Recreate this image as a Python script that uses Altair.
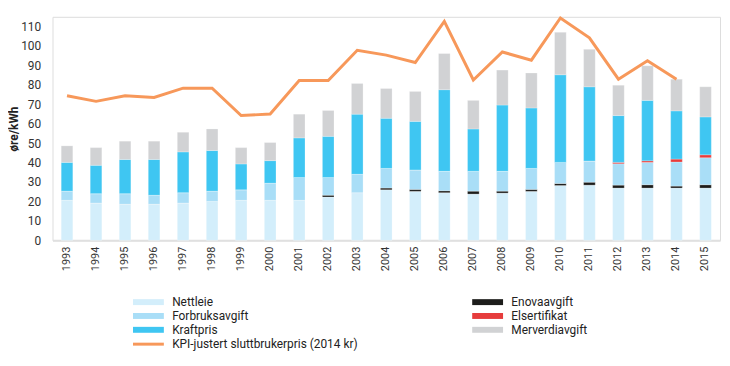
import altair as alt
import pandas as pd

years = [str(y) for y in range(1993, 2016)]
nettleie = [20.6, 19.2, 18.6, 18.6, 19.2, 20.0, 20.6, 20.6, 20.6, 22.3, 24.5, 26.0, 25.2, 24.5, 23.8, 24.3, 25.2, 28.2, 28.4, 26.9, 26.9, 26.9, 26.9]
enova = [0, 0, 0, 0, 0, 0, 0, 0, 0, 0.9, 0, 0.9, 1.0, 1.0, 1.5, 1.0, 1.0, 1.0, 1.5, 1.5, 1.7, 1.0, 1.7]
forbruk = [4.7, 4.8, 5.4, 4.6, 5.3, 5.3, 5.4, 8.8, 11.7, 9.1, 9.5, 10.1, 10.0, 10.0, 10.2, 10.2, 10.8, 10.9, 10.9, 11.0, 11.5, 12.4, 13.9]
elsert = [0, 0, 0, 0, 0, 0, 0, 0, 0, 0, 0, 0, 0, 0, 0, 0, 0, 0, 0, 0.7, 0.8, 1.5, 1.5]
kraft = [14.8, 14.6, 17.6, 18.4, 21.0, 20.9, 13.3, 11.6, 20.4, 21.2, 30.9, 25.8, 25.0, 42.0, 21.8, 34.1, 31.1, 45.1, 38.2, 24.1, 31.1, 24.8, 19.5]
mva = [8.5, 9.1, 9.4, 9.4, 10.1, 11.1, 8.4, 9.3, 12.2, 13.3, 15.8, 15.3, 15.4, 18.6, 14.7, 18.0, 18.0, 21.8, 19.3, 15.6, 17.8, 16.3, 15.5]
kpi = [74.4, 71.5, 74.4, 73.5, 78.3, 78.3, 64.2, 65.0, 82.2, 82.2, 97.8, 95.3, 91.5, 112.7, 82.5, 96.9, 92.7, 114.4, 104.2, 82.9, 92.4, 82.9, None]
y_ticks = [0, 10, 20, 30, 40, 50, 60, 70, 80, 90, 100, 110]

# stacking order, bottom to top
stack_components = ["Nettleie", "Enovaavgift", "Forbruksavgift", "Elsertifikat", "Kraftpris", "Merverdiavgift"]
series_values = [nettleie, enova, forbruk, elsert, kraft, mva]
# legend order (fills column by column)
legend_components = ["Nettleie", "Forbruksavgift", "Kraftpris", "Enovaavgift", "Elsertifikat", "Merverdiavgift"]
legend_colors = ["#d3eefb", "#a9def7", "#3fc6f2", "#1d1d1b", "#e63c3c", "#d1d2d4"]
line_name = "KPI-justert sluttbrukerpris (2014 kr)"

rows = []
for ci, (name, vals) in enumerate(zip(stack_components, series_values)):
    for y, v in zip(years, vals):
        rows.append({"year": y, "component": name, "value": v, "order": ci})
bars_df = pd.DataFrame(rows)
line_df = pd.DataFrame({"year": years, "kpi": kpi, "series": line_name}).dropna()

FONT = "Roboto"

x_axis = alt.Axis(labelAngle=-90, ticks=False, domainColor="#e0e0e0",
                  domainWidth=2, labelFontSize=11, labelColor="#333333",
                  labelFont=FONT, labelPadding=6, labelBaseline="middle")
x_scale = alt.Scale(paddingInner=0.6, paddingOuter=0.3)

y_axis = alt.Axis(values=y_ticks, grid=False, domain=False, ticks=False,
                  labelOverlap=False,
                  labelFontSize=12, labelColor="#333333", labelFont=FONT, labelPadding=12,
                  titleFont=FONT, titleFontSize=12, titleFontWeight="bold",
                  titleColor="#222222", titlePadding=0)
y_scale = alt.Scale(domain=[0, 115], nice=False)

bars = alt.Chart(bars_df).mark_bar(stroke="white", strokeWidth=0.4, strokeOpacity=0.6).encode(
    x=alt.X("year:N", title=None, sort=years, scale=x_scale, axis=x_axis),
    y=alt.Y("sum(value):Q", stack="zero", scale=y_scale, title="øre/kWh", axis=y_axis),
    color=alt.Color("component:N", sort=legend_components,
                    scale=alt.Scale(domain=legend_components, range=legend_colors),
                    legend=alt.Legend(title=None, orient="none", legendX=91, legendY=282.5,
                                      columns=2, columnPadding=225, rowPadding=2,
                                      symbolType="M-5.2,-1H5.2V1H-5.2Z", symbolSize=36,
                                      symbolStrokeWidth=0, labelOffset=18,
                                      labelFont=FONT, labelFontSize=12, labelColor="#222222")),
    order=alt.Order("order:Q", sort="ascending"),
)

line = alt.Chart(line_df).mark_line(strokeWidth=3).encode(
    x=alt.X("year:N", title=None, sort=years, scale=x_scale, axis=x_axis),
    y=alt.Y("kpi:Q", scale=y_scale, title="øre/kWh", axis=y_axis),
    stroke=alt.Stroke("series:N", scale=alt.Scale(domain=[line_name], range=["#f7985a"]),
                      legend=alt.Legend(title=None, orient="none", legendX=91, legendY=325,
                                        symbolType="M-5.2,0H5.2", symbolSize=36,
                                        symbolStrokeWidth=3, labelOffset=18, labelLimit=400,
                                        labelFont=FONT, labelFontSize=12, labelColor="#222222")),
)

chart = alt.layer(bars, line).properties(
    width=675, height=226,
    autosize=alt.AutoSizeParams(type="none"),
    padding={"left": 45, "top": 7, "right": 2, "bottom": 110},
).configure_view(stroke=None).configure(background="white")

chart.save("out.html", embed_options={"renderer": "svg", "actions": False})
